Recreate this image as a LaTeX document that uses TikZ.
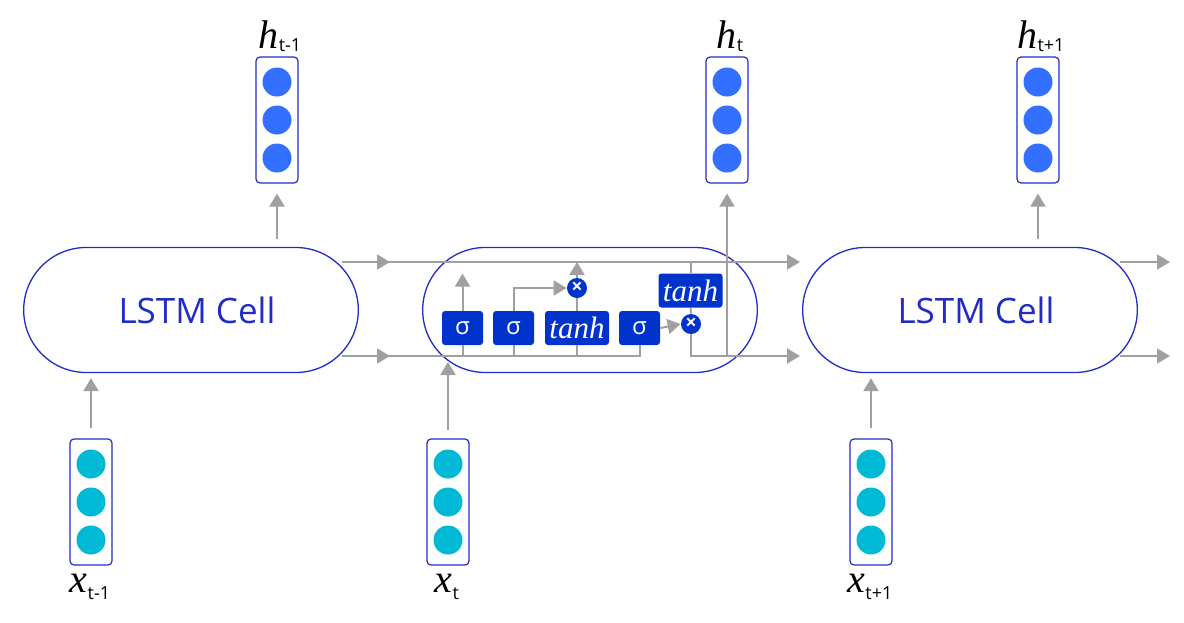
\documentclass[tikz,border=0pt]{standalone}
\usepackage{fontspec}
\setmainfont{Liberation Serif}
\setsansfont{Open Sans}
\usetikzlibrary{arrows.meta, shapes.misc, positioning, decorations.markings}
\definecolor{cellblue}{RGB}{32,44,196}
\definecolor{gateblue}{RGB}{0,51,204}
\definecolor{hblue}{RGB}{51,112,255}
\definecolor{xcyan}{RGB}{0,185,212}
\definecolor{wiregray}{RGB}{160,160,160}
\tikzset{cell/.style={draw=cellblue, line width=0.65pt, rounded rectangle, minimum width=167pt, minimum height=62.5pt, text=cellblue, font=\sffamily\fontsize{17.5}{20}\selectfont}}
\tikzset{vecbox/.style={draw=cellblue, line width=0.6pt, rounded corners=2pt, minimum width=21pt, minimum height=63pt}}
\tikzset{unit/.style={circle, fill=#1, minimum size=14.5pt, inner sep=0pt}}
\tikzset{gate/.style={fill=gateblue, rounded corners=1.5pt, text=white, minimum height=17pt, inner sep=0pt}}
\tikzset{sig/.style={gate, minimum width=20.5pt, font=\sffamily\fontsize{12}{12}\selectfont}}
\tikzset{tnh/.style={gate, minimum width=32pt, font=\itshape\fontsize{15.5}{15.5}\selectfont}}
\tikzset{mult/.style={circle, fill=gateblue, text=white, minimum size=10pt, inner sep=0pt, font=\sffamily\bfseries\fontsize{10}{10}\selectfont}}
\tikzset{wire/.style={color=wiregray, line width=1pt}}
\tikzset{arr/.style={wire, -{Triangle[length=6.5pt, width=7.5pt]}}}
\tikzset{midarr/.style={postaction={decorate, decoration={markings, mark=at position #1 with {\arrow{Triangle[length=6.5pt, width=7.5pt]}}}}}}
\tikzset{midarr/.default=24pt}
\newcommand{\hlab}[1]{\fontsize{20}{20}\selectfont\textit{h}\raisebox{-1.5pt}{\sffamily\fontsize{9}{9}\selectfont #1}}
\newcommand{\xlab}[1]{\fontsize{20}{20}\selectfont\textit{x}\raisebox{-3.5pt}{\sffamily\fontsize{9}{9}\selectfont #1}}

\begin{document}
\begin{tikzpicture}[x=0.5pt, y=-0.5pt]
\useasboundingbox (0,0) rectangle (1184,622);

\node[cell, minimum width=174pt] (c1) at (191,310) {\hspace{6pt}LSTM Cell};
\node[cell, minimum width=174pt] (c2) at (590,310) {};
\node[cell, minimum width=174pt] (c3) at (970,310) {\hspace{6pt}LSTM Cell};

% vectors h and x
\foreach \n/\hx/\xx/\sub in {1/277/91/t-1, 2/727/448/t, 3/1038/871/t+1} {
    \node[vecbox] (h\n) at (\hx,120) {};
    \node[vecbox] (x\n) at (\xx,502) {};
    \foreach \dy in {-38, 0, 38} {
        \node[unit=hblue] at (\hx,{120+\dy}) {};
        \node[unit=xcyan] at (\xx,{502+\dy}) {};
    }
    \node[anchor=base] (hl\n) at ({\hx+3},48) {\hlab{\sub}};
    \node[anchor=base] (xl\n) at ({\xx-1},592) {\xlab{\sub}};
}

% gates of the middle cell
\node[sig] (g1) at (462.5,328) {σ};
\node[sig] (g2) at (513.5,328) {σ};
\node[tnh] (g3) at (577,328) {tanh};
\node[sig] (g4) at (639.5,328) {σ};
\node[tnh] (g5) at (690.5,290.5) {tanh};
\node[mult] (m1) at (577,288) {×};
\node[mult] (m2) at (691,324) {×};

\coordinate (s1) at (342,262);
\coordinate (s2) at (342,356);
\coordinate (e1) at (800,262);
\coordinate (e2) at (800,356);
\coordinate (o1) at (1120,262);
\coordinate (o2) at (1120,356);
\coordinate (p1) at (1170,262);
\coordinate (p2) at (1170,356);

\draw[arr, midarr] (s1) -- (e1);
\draw[wire, midarr] (s2) -- (s2 -| g4.south) -- (g4.south);
\foreach \g in {g1, g2, g3} {
    \draw[wire] (\g.south) -- (\g.south |- s2);
}
\draw[arr] (g1.north) -- ++(0,-37);
\draw[arr] (g2.north) |- (m1.west);
\draw[wire] (g3.north) -- (m1.south);
\draw[arr] (m1.north) -- (m1.north |- s1);
\draw[arr] (g4.east) -- (m2.west);
\draw[wire] (g5.south) -- (m2.north);
\draw[wire] (g5.north) -- (g5.north |- s1);
\draw[arr] (m2.south) |- (e2);
\draw[arr] (o1) -- (p1);
\draw[arr] (o2) -- (p2);

% inputs and outputs
\draw[arr, shorten <=4pt, shorten >=5pt] (c1.north -| h1) -- (h1.south);
\draw[arr, shorten >=5pt] (h2.south |- e2) -- (h2.south);
\draw[arr, shorten <=4pt, shorten >=5pt] (c3.north -| h3) -- (h3.south);
\draw[arr, shorten <=5pt, shorten >=2.5pt] (x1.north) -- (x1.north |- c1.south);
\draw[arr, shorten <=4pt, shorten >=3pt] (x2.north) -- (x2.north |- s2);
\draw[arr, shorten <=5pt, shorten >=2.5pt] (x3.north) -- (x3.north |- c3.south);
\end{tikzpicture}
\end{document}
